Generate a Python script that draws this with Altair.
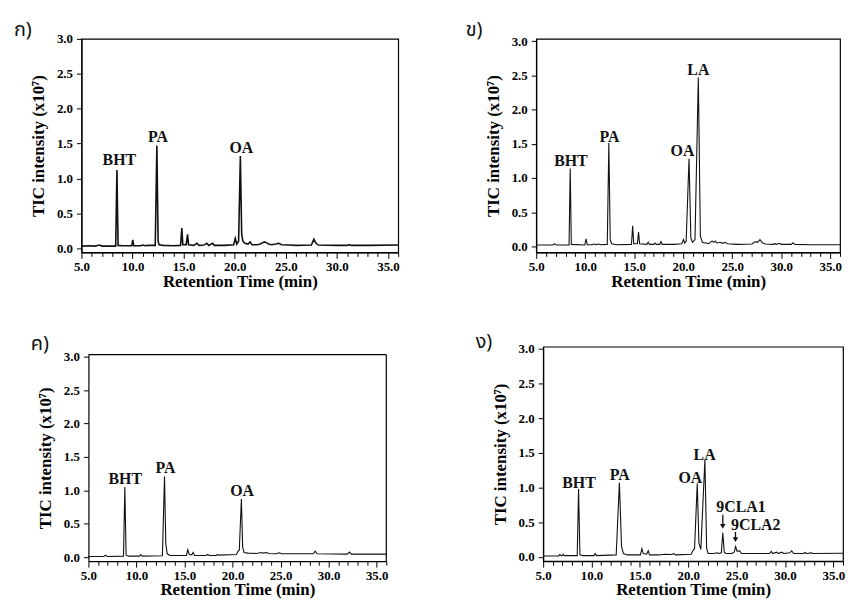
import altair as alt
import pandas as pd

# ---------------- data ----------------
# Panel ก)
P1_T = [5.0, 5.8, 6.3, 6.8, 7.0, 8.35, 8.47, 8.58, 9.0, 9.93, 10.02, 10.12, 10.8, 11.0, 11.2, 11.5,
        12.22, 12.38, 12.5, 12.6, 13.0, 14.0, 14.7, 14.82, 14.92, 15.25, 15.38, 15.48, 16.0, 16.3,
        16.5, 17.0, 17.26, 17.45, 17.85, 18.0, 19.0, 19.9, 20.05, 20.2, 20.38, 20.55, 20.68, 20.8,
        21.0, 21.3, 21.5, 21.7, 22.2, 22.5, 22.9, 23.1, 23.3, 23.6, 24.0, 24.3, 24.6, 25.3, 26.0,
        27.5, 27.75, 27.95, 28.2, 30.0, 31.0, 31.2, 31.4, 33.0, 36.0]
P1_V = [0.03, 0.035, 0.03, 0.045, 0.03, 0.03, 1.12, 0.04, 0.035, 0.035, 0.12, 0.035, 0.035, 0.045,
        0.035, 0.04, 0.04, 1.47, 0.1, 0.05, 0.04, 0.035, 0.04, 0.29, 0.05, 0.05, 0.2, 0.05, 0.04,
        0.07, 0.04, 0.045, 0.07, 0.04, 0.07, 0.04, 0.04, 0.05, 0.14, 0.06, 0.1, 1.32, 0.2, 0.1,
        0.07, 0.06, 0.09, 0.05, 0.05, 0.06, 0.09, 0.08, 0.06, 0.05, 0.06, 0.07, 0.05, 0.045, 0.04,
        0.045, 0.13, 0.07, 0.045, 0.04, 0.04, 0.05, 0.04, 0.04, 0.045]

# Panel ข)
P2_T = [5.0, 6.7, 6.89, 7.05, 8.35, 8.47, 8.58, 9.95, 10.09, 10.2, 10.7, 10.9, 11.1, 11.4, 11.6,
        12.25, 12.41, 12.55, 12.7, 13.2, 14.72, 14.84, 14.95, 15.32, 15.44, 15.55, 16.3, 16.42,
        16.55, 17.0, 17.12, 17.25, 17.6, 17.73, 17.85, 19.0, 19.85, 20.02, 20.15, 20.3, 20.59,
        20.78, 20.95, 21.2, 21.54, 21.75, 21.95, 22.2, 22.44, 22.6, 22.95, 23.1, 23.28, 23.45,
        23.79, 24.0, 24.29, 24.5, 25.5, 27.0, 27.4, 27.6, 27.83, 28.1, 28.4, 29.2, 29.35, 29.5,
        29.85, 30.0, 31.05, 31.2, 31.4, 33.0, 36.0]
P2_V = [0.02, 0.02, 0.04, 0.02, 0.02, 1.14, 0.03, 0.02, 0.11, 0.025, 0.025, 0.035, 0.025, 0.035,
        0.025, 0.03, 1.51, 0.1, 0.04, 0.025, 0.03, 0.30, 0.04, 0.04, 0.21, 0.04, 0.03, 0.06, 0.03,
        0.03, 0.05, 0.03, 0.03, 0.07, 0.03, 0.03, 0.04, 0.10, 0.05, 0.08, 1.28, 0.12, 0.06, 0.1,
        2.47, 0.15, 0.06, 0.05, 0.05, 0.04, 0.08, 0.06, 0.08, 0.05, 0.06, 0.045, 0.06, 0.04, 0.03,
        0.035, 0.07, 0.06, 0.1, 0.05, 0.035, 0.03, 0.04, 0.03, 0.045, 0.03, 0.03, 0.055, 0.03,
        0.025, 0.025]

# Panel ค)
P3_T = [5.0, 6.6, 6.79, 6.95, 8.65, 8.79, 8.92, 9.2, 10.3, 10.44, 10.6, 12.7, 12.92, 13.05, 13.2,
        13.5, 15.2, 15.34, 15.5, 15.75, 15.89, 16.05, 17.25, 17.4, 17.6, 18.3, 18.44, 18.6, 20.4,
        20.57, 20.7, 20.92, 21.05, 21.2, 21.6, 22.5, 23.0, 23.2, 23.5, 23.8, 24.5, 24.85, 25.1,
        28.4, 28.6, 28.8, 31.95, 32.16, 32.35, 36.0]
P3_V = [0.01, 0.01, 0.03, 0.01, 0.015, 1.05, 0.03, 0.015, 0.015, 0.04, 0.015, 0.02, 1.21, 0.2,
        0.05, 0.025, 0.025, 0.11, 0.04, 0.035, 0.07, 0.025, 0.025, 0.04, 0.025, 0.025, 0.04, 0.03,
        0.04, 0.09, 0.1, 0.87, 0.15, 0.07, 0.06, 0.055, 0.07, 0.06, 0.07, 0.055, 0.05, 0.065, 0.05,
        0.05, 0.09, 0.05, 0.045, 0.075, 0.045, 0.045]

# Panel ง)
P4_T = [5.0, 6.6, 6.72, 6.85, 6.95, 7.06, 7.2, 8.52, 8.66, 8.8, 9.1, 10.25, 10.38, 10.5, 12.55,
        12.88, 13.1, 13.3, 13.7, 15.05, 15.21, 15.35, 15.7, 15.86, 16.0, 17.0, 17.5, 18.3, 18.5,
        18.7, 20.3, 20.52, 20.65, 20.93, 21.1, 21.3, 21.72, 21.9, 22.05, 22.6, 22.99, 23.2, 23.42,
        23.57, 23.72, 23.9, 24.5, 24.75, 24.9, 25.05, 25.3, 25.5, 26.5, 28.4, 28.58, 28.75, 29.15,
        29.3, 29.67, 29.85, 30.5, 30.69, 30.9, 31.9, 32.07, 32.2, 32.75, 32.9, 36.0]
P4_V = [0.015, 0.015, 0.035, 0.02, 0.02, 0.04, 0.02, 0.02, 0.98, 0.03, 0.02, 0.02, 0.05, 0.02,
        0.03, 1.07, 0.15, 0.05, 0.03, 0.03, 0.12, 0.05, 0.04, 0.09, 0.03, 0.03, 0.04, 0.035, 0.05,
        0.03, 0.04, 0.1, 0.12, 1.06, 0.2, 0.11, 1.40, 0.12, 0.05, 0.05, 0.06, 0.05, 0.06, 0.35,
        0.07, 0.05, 0.05, 0.07, 0.15, 0.08, 0.09, 0.05, 0.05, 0.05, 0.08, 0.05, 0.07, 0.05, 0.07,
        0.05, 0.06, 0.09, 0.05, 0.05, 0.065, 0.05, 0.06, 0.05, 0.055]

# peak labels: text, retention time of label centre, intensity of label baseline
L1_TXT = ["BHT", "PA", "OA"]
L1_T = [8.71, 12.49, 20.65]
L1_V = [1.19, 1.52, 1.36]
L2_TXT = ["BHT", "PA", "OA", "LA"]
L2_T = [8.54, 12.48, 19.92, 21.54]
L2_V = [1.18, 1.53, 1.32, 2.51]
L3_TXT = ["BHT", "PA", "OA"]
L3_T = [8.83, 13.03, 20.99]
L3_V = [1.10, 1.26, 0.92]
L4_TXT = ["BHT", "PA", "OA", "LA", "9CLA1", "9CLA2"]
L4_T = [8.70, 12.92, 20.21, 21.69, 25.45, 26.97]
L4_V = [1.00, 1.11, 1.07, 1.40, 0.65, 0.39]

# arrows in panel ง)
ARROW_T = [23.57, 24.88]
ARROW_TOP = [0.61, 0.36]
ARROW_HEAD = [0.44, 0.25]

TAGS = ["ก)", "ข)", "ค)", "ง)"]
X_TICKS = list(range(5, 37))
Y_TICKS = [0.0, 0.5, 1.0, 1.5, 2.0, 2.5, 3.0]

SERIF = "Liberation Serif"
THAI = "Noto Sans Thai, Noto Sans, DejaVu Sans, sans-serif"
FRAME_W = 1.2
AX_STYLE = dict(
    labelOverlap=False, labelFlush=False, grid=False, domainWidth=FRAME_W,
    domainColor="black", tickColor="black", labelColor="black", titleColor="black",
    labelFont=SERIF, labelFontWeight="bold", labelFontSize=13,
    titleFont=SERIF, titleFontWeight="bold", titleFontSize=17,
)


def panel(t, v, ltxt, lt, lv, tag, tag_xy, tl, br, w, h, ydom, sw, arrows=False, inset=0):
    # inset > 0: the framed plot starts `inset` px right of the view's left edge
    xs = alt.Scale(domain=[5, 36], nice=False, zero=False, range=[inset, w])
    ys = alt.Scale(domain=ydom, nice=False, zero=False)
    xax = alt.Axis(
        values=X_TICKS,
        labelExpr="datum.value % 5 === 0 ? format(datum.value, '.1f') : ''",
        tickSize={"condition": {"test": "datum.value % 5 === 0", "value": 6}, "value": 4},
        labelPadding=2, title="Retention Time (min)", titlePadding=0, **AX_STYLE,
    )
    yax = alt.Axis(
        values=Y_TICKS, format=".1f", tickSize=5, labelPadding=4, offset=-inset,
        title="TIC intensity (x10⁷)", titlePadding=9, **AX_STYLE,
    )
    X = alt.X("t:Q", scale=xs, axis=xax)
    df = pd.DataFrame({"t": t, "v": v})
    line = alt.Chart(df).mark_line(color="#111", strokeWidth=sw, interpolate="linear").encode(
        x=X, y=alt.Y("v:Q", scale=ys, axis=yax))
    ldf = pd.DataFrame({"txt": ltxt, "t": lt, "v": lv})
    labels = alt.Chart(ldf).mark_text(
        font=SERIF, fontWeight="bold", fontSize=16, baseline="alphabetic", align="center", color="#111"
    ).encode(x=X, y=alt.Y("v:Q", scale=ys, axis=yax), text="txt:N")
    one = pd.DataFrame({"tag": [tag]})
    tagm = alt.Chart(one).mark_text(
        font=THAI, fontSize=20, align="left", baseline="alphabetic", color="#111"
    ).encode(x=alt.value(tag_xy[0]), y=alt.value(tag_xy[1]), text="tag:N")
    # white dots that fix the panel's outer corners for the grid layout
    a1 = alt.Chart(one).mark_text(fontSize=4, align="left", baseline="top", color="white",
                                  text=".").encode(x=alt.value(tl[0]), y=alt.value(tl[1]))
    a2 = alt.Chart(one).mark_text(fontSize=4, align="right", baseline="bottom", color="white",
                                  text=".").encode(x=alt.value(br[0]), y=alt.value(br[1]))
    layers = [line, labels, tagm, a1, a2]
    if inset:
        top = alt.Chart(one).mark_rule(color="black", strokeWidth=FRAME_W).encode(
            x=alt.value(inset), x2=alt.value(w), y=alt.value(0))
        right = alt.Chart(one).mark_rule(color="black", strokeWidth=FRAME_W).encode(
            x=alt.value(w), y=alt.value(0), y2=alt.value(h))
        layers += [top, right]
    if arrows:
        adf = pd.DataFrame({"t": ARROW_T, "top": ARROW_TOP, "head": ARROW_HEAD})
        rule = alt.Chart(adf).mark_rule(color="#111", strokeWidth=1.3).encode(
            x=X, y=alt.Y("top:Q", scale=ys, axis=yax), y2="head:Q")
        head = alt.Chart(adf).mark_point(shape="triangle-down", filled=True, size=30,
                                         color="#111", opacity=1).encode(
            x=X, y=alt.Y("head:Q", scale=ys, axis=yax))
        layers += [rule, head]
    ch = alt.layer(*layers).properties(width=w, height=h)
    if inset:
        ch = ch.properties(view=alt.ViewBackground(stroke="transparent"))
    return ch


# plot-area corners targeted on the page: p1 (80,36) p2 (536,36) p3 (87,353) p4 (542,345)
p1 = panel(P1_T, P1_V, L1_TXT, L1_T, L1_V, TAGS[0], (-68, -3), (-72, -28), (330, 270),
           319, 215, [-0.06, 3.0], 1.6)
p2 = panel(P2_T, P2_V, L2_TXT, L2_T, L2_V, TAGS[1], (-71, -3), (-106, -28), (0, 270),
           306, 215, [-0.087, 3.033], 1.1)
p3 = panel(P3_T, P3_V, L3_TXT, L3_T, L3_V, TAGS[2], (-51, -5), (-72, -37), (-72, -37),
           307, 208, [-0.06, 3.03], 1.1, inset=7)
p4 = panel(P4_T, P4_V, L4_TXT, L4_T, L4_V, TAGS[3], (-68, 1), (-112, -29), (-112, -29),
           302, 216, [-0.06, 3.03], 1.1, arrows=True)

chart = alt.concat(p1, p2, p3, p4, columns=2, align="none", bounds="full",
                   spacing={"row": 5, "column": 20}).properties(
    padding={"left": 0, "top": 0, "right": 0, "bottom": 0},
    background="white",
).configure_view(stroke="black", strokeWidth=FRAME_W)

chart.save("out.html", embed_options={"renderer": "svg", "actions": False})
